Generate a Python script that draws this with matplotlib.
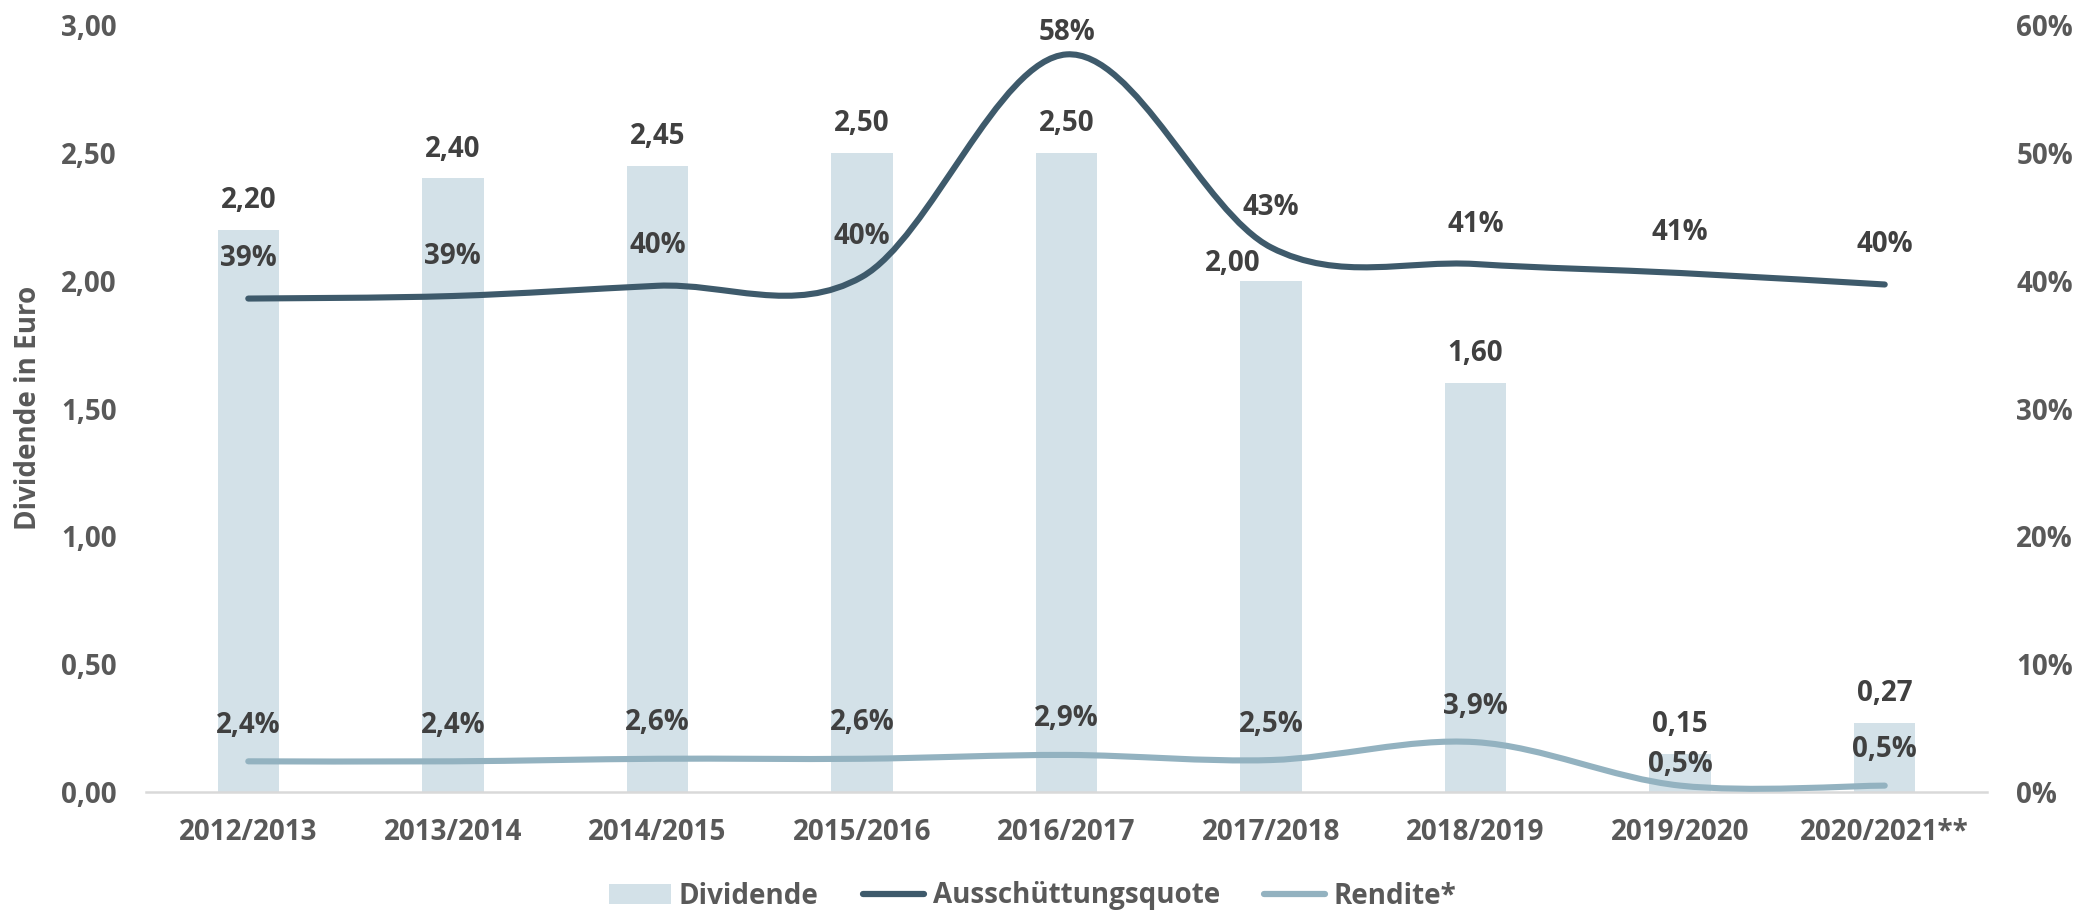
import matplotlib
matplotlib.use("Agg")
import matplotlib.pyplot as plt
from matplotlib.path import Path
from matplotlib.patches import PathPatch, Patch
from matplotlib.lines import Line2D
import numpy as np

plt.rcParams['font.family'] = ['Open Sans', 'DejaVu Sans']
plt.rcParams['font.weight'] = 'bold'

categories = ["2012/2013", "2013/2014", "2014/2015", "2015/2016", "2016/2017",
              "2017/2018", "2018/2019", "2019/2020", "2020/2021**"]
dividende = [2.20, 2.40, 2.45, 2.50, 2.50, 2.00, 1.60, 0.15, 0.27]
quote = [38.6, 38.8, 39.6, 40.3, 57.7, 42.6, 41.3, 40.6, 39.7]       # Ausschüttungsquote in %
quote_labels = ["39%", "39%", "40%", "40%", "58%", "43%", "41%", "41%", "40%"]
rendite = [2.4, 2.4, 2.6, 2.6, 2.9, 2.5, 3.9, 0.5, 0.5]               # Rendite in %
rendite_labels = ["2,4%", "2,4%", "2,6%", "2,6%", "2,9%", "2,5%", "3,9%", "0,5%", "0,5%"]
left_ticks = [0, 0.5, 1.0, 1.5, 2.0, 2.5, 3.0]
right_ticks = [0, 10, 20, 30, 40, 50, 60]

BAR_C = "#D3E1E8"
QUOTE_C = "#3E5A6B"
REND_C = "#93B2C0"
LABEL_C = "#404040"
TICK_C = "#595959"
FS = 20

W, H = 2077, 914
fig = plt.figure(figsize=(W / 100, H / 100), dpi=100)
ax = fig.add_axes([146 / W, 1 - 792 / H, (1987 - 146) / W, (792 - 25) / H])
ax2 = ax.twinx()

x = np.arange(len(categories))
ax.bar(x, dividende, width=0.30, color=BAR_C, zorder=1)
ax.set_xlim(-0.5, len(categories) - 0.5)
ax.set_ylim(0, 3.0)
ax2.set_ylim(0, 60)
ax.set_yticks(left_ticks)
ax.set_yticklabels([f"{v:.2f}".replace(".", ",") for v in left_ticks])
ax2.set_yticks(right_ticks)
ax2.set_yticklabels([f"{v}%" for v in right_ticks])
ax.set_xticks(x)
ax.set_xticklabels(categories)

for a in (ax, ax2):
    for s in a.spines.values():
        s.set_visible(False)
    a.tick_params(length=0, labelsize=FS, labelcolor=TICK_C)
ax.spines['bottom'].set_visible(True)
ax.spines['bottom'].set_color("#D9D9D9")
ax.spines['bottom'].set_linewidth(1.8)
ax.tick_params(axis='y', pad=21)
ax.tick_params(axis='x', pad=19)
ax2.tick_params(axis='y', pad=21)
for t in ax.get_xticklabels() + ax.get_yticklabels() + ax2.get_yticklabels():
    t.set_fontweight('bold')


def smooth_path(xs, ys):
    pts = np.column_stack([xs, ys]).astype(float)
    n = len(pts)
    verts = [pts[0]]
    codes = [Path.MOVETO]
    for i in range(n - 1):
        p0 = pts[i - 1] if i > 0 else pts[i]
        p1 = pts[i]
        p2 = pts[i + 1]
        p3 = pts[i + 2] if i + 2 < n else pts[i + 1]
        c1 = p1 + (p2 - p0) / 6.0
        c2 = p2 - (p3 - p1) / 6.0
        verts += [c1, c2, p2]
        codes += [Path.CURVE4] * 3
    return Path(verts, codes)


for vals, col in ((quote, QUOTE_C), (rendite, REND_C)):
    pp = PathPatch(smooth_path(x, vals), facecolor='none', edgecolor=col,
                   lw=4.4, capstyle='round', joinstyle='round', zorder=3)
    ax2.add_patch(pp)

# data labels (Excel shifted one label to avoid overlap)
for i, (xi, v) in enumerate(zip(x, dividende)):
    off = (-38, 17) if i == 5 else (0, 29)
    ax.annotate(f"{v:.2f}".replace(".", ","), (xi, v), xytext=off,
                textcoords='offset pixels', ha='center', va='center',
                fontsize=FS, fontweight='bold', color=LABEL_C)

top_px = H - 25
for xi, v, lab in zip(x, quote, quote_labels):
    py = ax2.transData.transform((xi, v))[1]
    off = min(40, (top_px - 8) - py)
    ax2.annotate(lab, (xi, v), xytext=(0, off), textcoords='offset pixels',
                 ha='center', va='center', fontsize=FS, fontweight='bold', color=LABEL_C, zorder=5)

for i, (xi, v, lab) in enumerate(zip(x, rendite, rendite_labels)):
    off = 21 if i == 7 else 36
    ax2.annotate(lab, (xi, v), xytext=(0, off), textcoords='offset pixels',
                 ha='center', va='center', fontsize=FS, fontweight='bold', color=LABEL_C, zorder=5)

fig.text(29 / W, 1 - 408 / H, "Dividende in Euro", rotation=90, ha='center', va='center',
         fontsize=FS, fontweight='bold', color=TICK_C)

handles = [Patch(facecolor=BAR_C, edgecolor='none'),
           Line2D([0], [0], color=QUOTE_C, lw=4.5, solid_capstyle='round'),
           Line2D([0], [0], color=REND_C, lw=4.5, solid_capstyle='round')]
leg = fig.legend(handles, ["Dividende", "Ausschüttungsquote", "Rendite*"], loc='center',
                 bbox_to_anchor=(1033 / W, 1 - 896 / H), ncol=3, frameon=False,
                 fontsize=FS, handlelength=2.2, handletextpad=0.3, columnspacing=1.6)
for t in leg.get_texts():
    t.set_color(TICK_C)
    t.set_fontweight('bold')

fig.savefig("out.png", dpi=100)
